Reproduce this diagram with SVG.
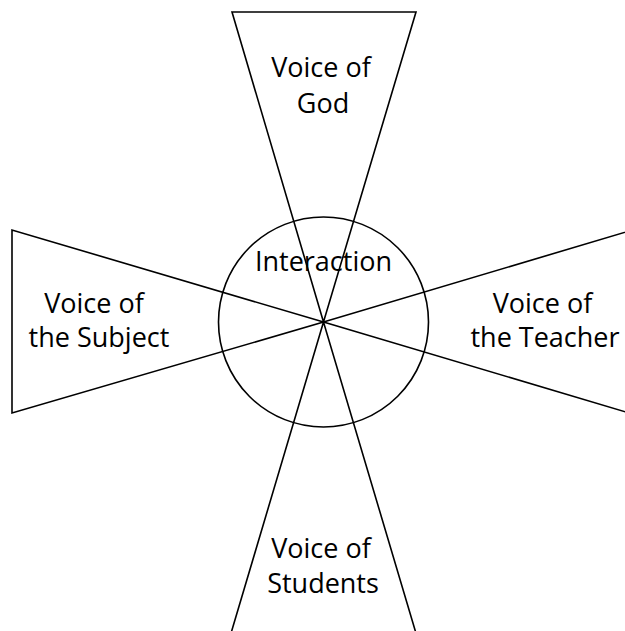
<svg xmlns="http://www.w3.org/2000/svg" width="625" height="631" viewBox="0 0 625 631">
  <style>
    .shape { fill: none; stroke: #000; stroke-width: 1.6; stroke-linejoin: miter; }
    .label { font-family: "Open Sans", "Noto Sans", "Liberation Sans", sans-serif; font-size: 27px; fill: #000; text-anchor: middle; }
  </style>
  <rect width="625" height="631" fill="#fff"/>
  <g id="interaction">
    <circle class="shape" cx="323.5" cy="322" r="105"/>
    <text class="label" x="323.5" y="271">Interaction</text>
  </g>
  <g id="voice-of-god">
    <polygon class="shape" points="323.5,322 232,12 416,12"/>
    <text class="label" x="321" y="77">Voice of</text>
    <text class="label" x="323" y="113">God</text>
  </g>
  <g id="voice-of-subject">
    <polygon class="shape" points="323.5,322 12,230 12,413"/>
    <text class="label" x="94" y="313">Voice of</text>
    <text class="label" x="99" y="347">the Subject</text>
  </g>
  <g id="voice-of-teacher">
    <polygon class="shape" points="323.5,322 636,229 636,415"/>
    <text class="label" x="542.5" y="313">Voice of</text>
    <text class="label" x="545" y="347">the Teacher</text>
  </g>
  <g id="voice-of-students">
    <polygon class="shape" points="323.5,322 229,640 418,640"/>
    <text class="label" x="321" y="558">Voice of</text>
    <text class="label" x="323" y="593">Students</text>
  </g>
  <g id="connectors"></g>
</svg>
